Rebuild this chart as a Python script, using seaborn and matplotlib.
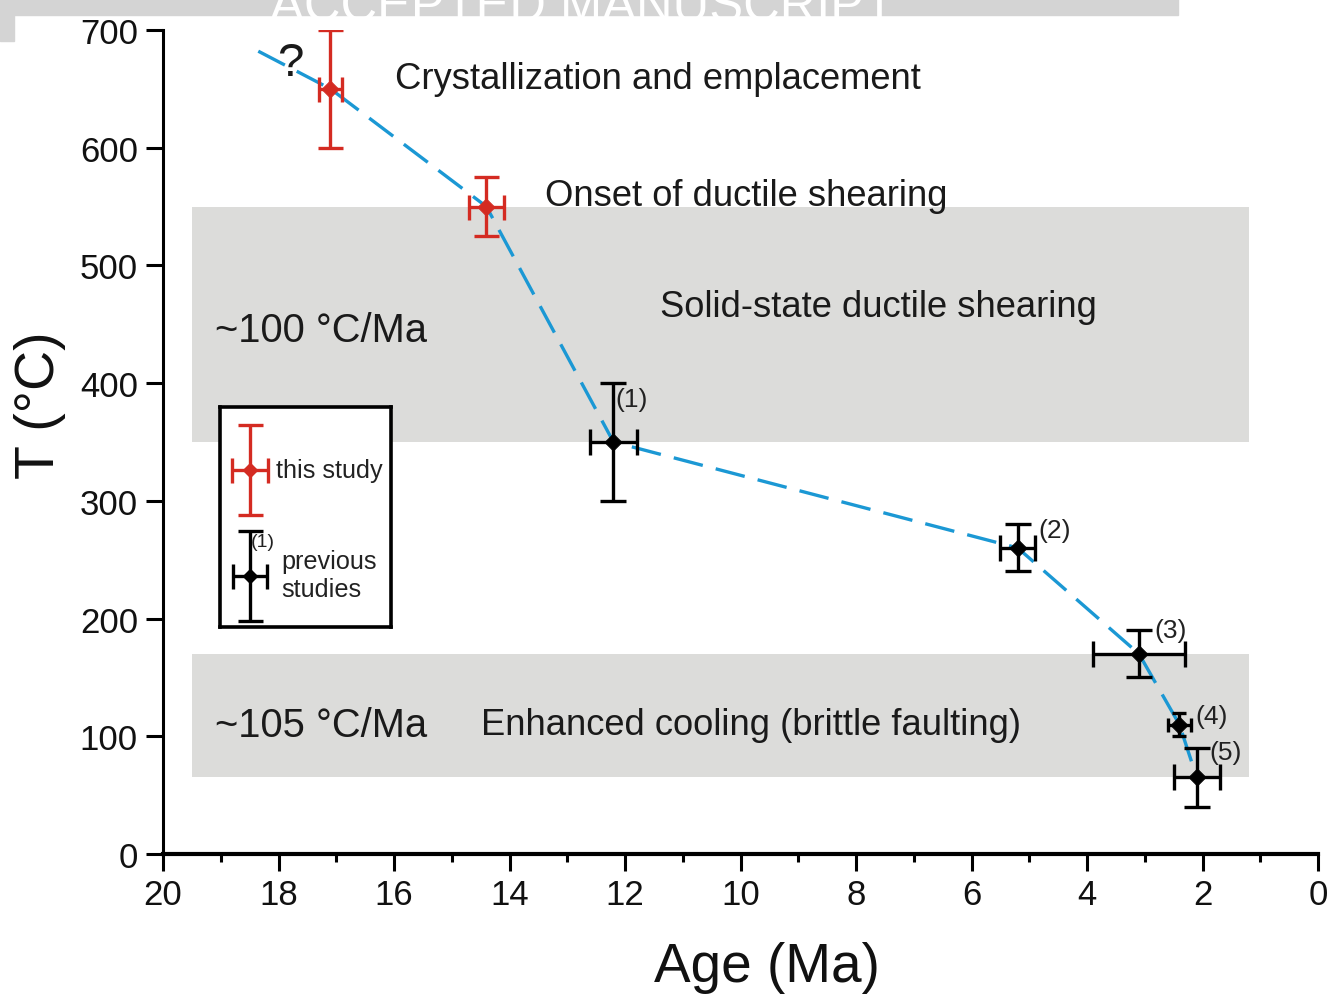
import numpy as np
import pandas as pd
import matplotlib.pyplot as plt
import matplotlib.patches as mpatches
import seaborn as sns

# data
this_age = [17.1, 14.4]
this_T = [650, 550]
this_age_err = [0.2, 0.3]
this_T_err = [50, 25]

prev_age = [12.2, 5.2, 3.1, 2.4, 2.1]
prev_T = [350, 260, 170, 110, 65]
prev_age_err = [0.4, 0.3, 0.8, 0.2, 0.4]
prev_T_err = [50, 20, 20, 10, 25]
prev_labels = ['(1)', '(2)', '(3)', '(4)', '(5)']

path_age = [18.35, 17.1, 14.4, 12.2, 5.2, 3.1, 2.4, 2.1]
path_T = [682, 650, 550, 350, 260, 170, 110, 65]

bands = [(350, 550), (65, 170)]
band_age = (19.5, 1.2)

RED = '#d42b22'
BLUE = '#1b98d4'
GRAY = '#dcdcda'

sns.set_theme(style='ticks')
plt.rcParams['font.family'] = ['Liberation Sans', 'DejaVu Sans']

fig = plt.figure(figsize=(13.3, 9.95), dpi=100)
ax = fig.add_axes([163/1330, 1-855/995, 1155/1330, 824/995])

for lo, hi in bands:
    ax.fill_between(band_age, lo, hi, color=GRAY, lw=0, zorder=0)

path = pd.DataFrame({'age': path_age, 'T': path_T})
sns.lineplot(data=path, x='age', y='T', ax=ax, color=BLUE, lw=2.4,
             sort=False, dashes=False, zorder=2)
ax.lines[-1].set_dashes([9, 4])

ebar = dict(fmt='none', elinewidth=2.4, capthick=2.4, zorder=3)
ax.errorbar(this_age, this_T, xerr=this_age_err, yerr=this_T_err,
            ecolor=RED, capsize=9, **ebar)
big = [i for i in range(len(prev_age)) if prev_T_err[i] > 10]
small = [i for i in range(len(prev_age)) if prev_T_err[i] <= 10]
for idx, cs in [(big, 9.5), (small, 5)]:
    ax.errorbar([prev_age[i] for i in idx], [prev_T[i] for i in idx],
                xerr=[prev_age_err[i] for i in idx], yerr=[prev_T_err[i] for i in idx],
                ecolor='black', capsize=cs, **ebar)
sns.scatterplot(x=this_age, y=this_T, ax=ax, marker='D', s=75, color=RED,
                edgecolor=RED, zorder=4)
sns.scatterplot(x=prev_age, y=prev_T, ax=ax, marker='D', s=75, color='black',
                edgecolor='black', zorder=4)

lab_off = [(2, 43), (21, 18), (15, 24), (16, 9), (13, 25)]
for a, t, lab, (dx, dy) in zip(prev_age, prev_T, prev_labels, lab_off):
    ax.annotate(lab, (a, t), xytext=(dx * 0.72, dy * 0.72), textcoords='offset points',
                fontsize=19, color='#222222', va='center', ha='left')

txt = dict(color='#1a1a1a', va='center', ha='left')
ax.text(17.8, 672, '?', fontsize=34, ha='center', va='center', color='#1a1a1a')
ax.text(15.98, 659, 'Crystallization and emplacement', fontsize=26.2, **txt)
ax.text(13.39, 559, 'Onset of ductile shearing', fontsize=26.2, **txt)
ax.text(11.39, 465, 'Solid-state ductile shearing', fontsize=26.2, **txt)
ax.text(19.1, 445, '~100 °C/Ma', fontsize=28.7, **txt)
ax.text(19.1, 110, '~105 °C/Ma', fontsize=28.7, **txt)
ax.text(14.49, 110, 'Enhanced cooling (brittle faulting)', fontsize=26.2, **txt)

ax.set_xlim(20, 0)
ax.set_ylim(0, 700)
ax.set_xticks(np.arange(20, -1, -2))
ax.set_xticks(np.arange(19, 0, -2), minor=True)
ax.set_yticks(np.arange(0, 701, 100))
ax.tick_params(axis='both', which='major', labelsize=25, length=12, width=2.2,
               color='black', labelcolor='#111111')
ax.tick_params(axis='x', which='minor', length=6, width=2.2, color='black')
ax.tick_params(axis='x', pad=5)
ax.tick_params(axis='y', pad=6)
sns.despine(ax=ax)
ax.spines['left'].set_linewidth(2.2)
ax.spines['bottom'].set_linewidth(3)
ax.spines['left'].set_color('black')
ax.spines['bottom'].set_color('black')
ax.set_xlabel('Age (Ma)', fontsize=39.5, color='#111111')
ax.set_ylabel('T (°C)', fontsize=40, color='#111111')
ax.xaxis.set_label_coords(0.523, -0.105)
ax.yaxis.set_label_coords(-0.084, 0.546)
ax.patch.set_alpha(0)

# legend box
lg = fig.add_axes([220/1330, 1-628/995, 171/1330, 220/995])
lg.set_xlim(0, 171)
lg.set_ylim(220, 0)
lg.set_xticks([])
lg.set_yticks([])
for s in lg.spines.values():
    s.set_linewidth(2.6)
    s.set_color('black')
lg.errorbar([30], [63], xerr=[18], yerr=[45], fmt='D', color=RED, ms=7,
            elinewidth=2.4, capsize=9, capthick=2.4)
lg.errorbar([30], [169], xerr=[17], yerr=[45], fmt='D', color='black', ms=7,
            elinewidth=2.4, capsize=9, capthick=2.4)
lg.text(56, 63, 'this study', fontsize=18.2, va='center', color='#222222')
lg.text(61, 168, 'previous\nstudies', fontsize=18.2, va='center', color='#222222',
        linespacing=1.25)
lg.text(31, 135, '(1)', fontsize=14, va='center', color='#222222')

# header band of the source page
fig.patches.append(mpatches.Rectangle((0, 1-16/995), 1178/1330, 16/995,
                                      transform=fig.transFigure, color='#d4d4d4', zorder=-1))
fig.patches.append(mpatches.Rectangle((0, 1-42/995), 14/1330, 42/995,
                                      transform=fig.transFigure, color='#d4d4d4', zorder=-1))
fig.text(582/1330, 1-22/995, 'ACCEPTED MANUSCRIPT', fontsize=36.5, color='white',
         ha='center', va='baseline')

fig.savefig('out.png', dpi=100)
